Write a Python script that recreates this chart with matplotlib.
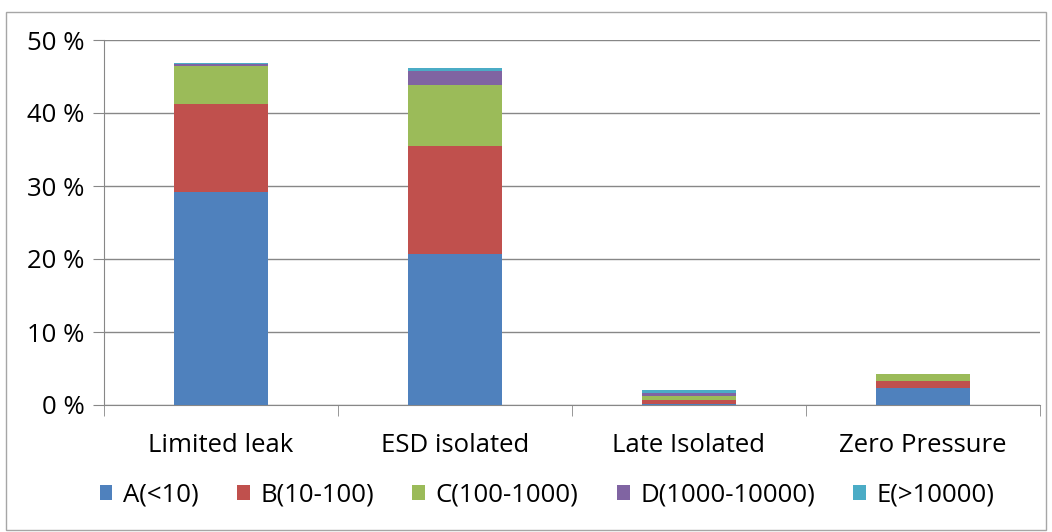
import matplotlib.pyplot as plt
from matplotlib.patches import Rectangle
import numpy as np

plt.rcParams['font.family'] = ['Open Sans', 'DejaVu Sans']

# categories and series (percent)
categories = ['Limited leak', 'ESD isolated', 'Late Isolated', 'Zero Pressure']
series_names = ['A(<10)', 'B(10-100)', 'C(100-1000)', 'D(1000-10000)', 'E(>10000)']
a_vals = [29.2, 20.7, 0.2, 2.3]
b_vals = [12.0, 14.8, 0.5, 1.0]
c_vals = [5.2, 8.3, 0.6, 0.9]
d_vals = [0.3, 2.0, 0.4, 0.05]
e_vals = [0.2, 0.3, 0.4, 0.05]
yticks = [0, 10, 20, 30, 40, 50]

colors = ['#4F81BD', '#C0504D', '#9BBB59', '#8064A2', '#4BACC6']

fig = plt.figure(figsize=(10.52, 5.32), dpi=100)
ax = fig.add_axes([104 / 1052, 1 - 405 / 532, 936 / 1052, 365 / 532])

# outer chart frame
fig.patches.append(Rectangle((6 / 1052, 2 / 532), 1040 / 1052, 1 - 14 / 532,
                             transform=fig.transFigure, fill=False,
                             edgecolor='#a6a6a6', linewidth=1))

x = np.arange(len(categories))
bottom = np.zeros(len(categories))
for name, vals, col in zip(series_names, [a_vals, b_vals, c_vals, d_vals, e_vals], colors):
    ax.bar(x, vals, width=0.4, bottom=bottom, color=col, label=name, zorder=3)
    bottom += np.array(vals)

ax.set_xlim(-0.5, len(categories) - 0.5)
ax.set_ylim(0, 50)
ax.set_yticks(yticks)
ax.set_yticklabels([f'{t} %' for t in yticks], fontsize=18.5)
ax.set_xticks(x)
ax.set_xticklabels(categories, fontsize=18.5)
ax.tick_params(axis='x', length=0, pad=20)
ax.tick_params(axis='y', length=8, color='#878787', pad=6)
# category separator ticks
ax.set_xticks(np.arange(-0.5, len(categories)), minor=True)
ax.tick_params(axis='x', which='minor', length=8, color='#878787')

ax.grid(axis='y', color='#878787', linewidth=1, zorder=0)
ax.set_axisbelow(True)
for s in ['top', 'right']:
    ax.spines[s].set_visible(False)
ax.spines['left'].set_color('#878787')
ax.spines['bottom'].set_color('#878787')

fig.legend(loc='center', bbox_to_anchor=(0.52, 1 - 495 / 532), ncol=5, frameon=False,
           fontsize=18.5, handlelength=0.5, handleheight=0.5, handletextpad=0.4,
           columnspacing=1.5)

fig.savefig('out.png', dpi=100)
